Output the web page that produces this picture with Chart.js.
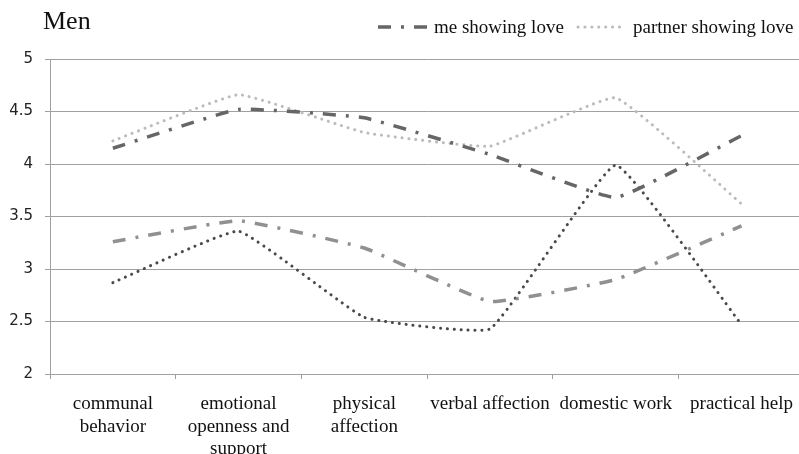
<!DOCTYPE html>
<html><head><meta charset="utf-8">
<script src="https://cdn.jsdelivr.net/npm/chart.js@4/dist/chart.umd.min.js"></script>
<style>html,body{margin:0;padding:0;overflow:hidden;background:#fff;width:799px;height:454px}canvas{display:block}</style>
</head><body><canvas id="c" width="807" height="454"></canvas>
<script>
const categories = [["communal","behavior"],["emotional","openness and","support"],["physical","affection"],"verbal affection","domestic work","practical help"];
const meShowingLove = [4.15,4.52,4.44,4.09,3.68,4.27];
const partnerShowingLove = [4.22,4.66,4.30,4.17,4.63,3.62];
const seriesC = [3.26,3.46,3.20,2.69,2.90,3.41];
const seriesD = [2.87,3.36,2.54,2.43,3.99,2.47];
const seriesNames = ["me showing love","partner showing love","",""];
const chartTitle = "Men";

const dashDot = [13,10,3,10];
const dotted = [0.1,6.8];

const overlay = {
  id:'overlay',
  afterDraw(chart){
    const ctx = chart.ctx;
    ctx.save();
    ctx.fillStyle = '#111';
    ctx.textBaseline = 'alphabetic';
    ctx.textAlign = 'left';
    ctx.font = '26px "Liberation Serif"';
    ctx.fillText(chartTitle, 43, 29);
    ctx.font = '19px "Liberation Serif"';
    ctx.lineWidth = 3.5; ctx.strokeStyle = '#666'; ctx.setLineDash(dashDot); ctx.lineCap='butt';
    ctx.beginPath(); ctx.moveTo(378,27); ctx.lineTo(433,27); ctx.stroke();
    ctx.fillText(seriesNames[0], 434, 33);
    ctx.lineWidth = 3; ctx.strokeStyle = '#bbb'; ctx.setLineDash(dotted); ctx.lineCap='round';
    ctx.beginPath(); ctx.moveTo(578,27); ctx.lineTo(620,27); ctx.stroke();
    ctx.fillText(seriesNames[1], 633, 33);
    ctx.restore();
  }
};

new Chart(document.getElementById('c'), {
  type:'line',
  data:{
    labels:categories,
    datasets:[
      {label:seriesNames[0], data:meShowingLove, borderColor:'#666', borderWidth:3.5, borderDash:dashDot, borderCapStyle:'butt'},
      {label:seriesNames[1], data:partnerShowingLove, borderColor:'#bbb', borderWidth:3, borderDash:dotted, borderCapStyle:'round'},
      {label:'series 3', data:seriesC, borderColor:'#909090', borderWidth:3.5, borderDash:dashDot, borderCapStyle:'butt'},
      {label:'series 4', data:seriesD, borderColor:'#4a4a4a', borderWidth:3, borderDash:dotted, borderCapStyle:'round'}
    ]
  },
  options:{
    responsive:false, animation:false, devicePixelRatio:1,
    layout:{padding:{top:59,right:1,left:0,bottom:0}},
    elements:{point:{radius:0}, line:{tension:0.1, fill:false}},
    plugins:{legend:{display:false}, title:{display:false}, tooltip:{enabled:false}},
    scales:{
      x:{
        offset:true,
        grid:{offset:true, drawOnChartArea:false, drawTicks:true, tickLength:5, color:'#a0a0a0'},
        border:{color:'#a0a0a0'},
        ticks:{maxRotation:0, autoSkip:false, padding:14, color:'#111', font:{family:'"Liberation Serif"', size:19, lineHeight:22.5/19}},
        afterFit(s){ s.height = 80; }
      },
      y:{
        min:2, max:5,
        grid:{color:'#a0a0a0', tickLength:5},
        border:{color:'#a0a0a0'},
        ticks:{stepSize:0.5, padding:12, color:'#222', font:{family:'"DejaVu Sans"', size:15}, callback:v=>String(v)},
        afterFit(s){ s.width = 50; }
      }
    }
  },
  plugins:[overlay]
});
</script></body></html>
